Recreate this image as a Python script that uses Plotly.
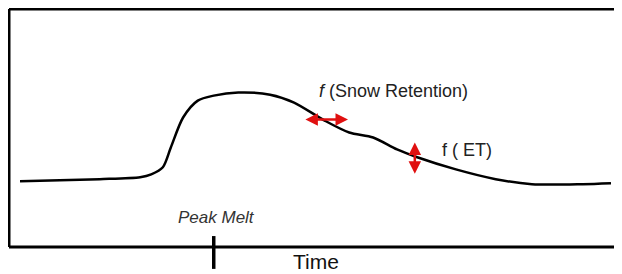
import plotly.graph_objects as go

# Hydrograph (arbitrary units: time 0-100, flow 0-100)
time = [1.8, 8.3, 14.8, 21.4, 23.2, 25.1, 26.4, 28.4, 30.8, 33.4, 37.4, 42.6,
        46.5, 51.5, 55.5, 59.4, 63.3, 66.6, 72.9, 79.4, 85.3, 93.6, 98.2]
flow = [27.6, 28.0, 28.5, 29.3, 30.5, 33.5, 41.8, 54.4, 61.5, 63.6, 64.9, 64.0,
        60.7, 53.1, 48.1, 46.0, 41.0, 37.7, 32.6, 28.5, 26.4, 26.4, 26.8]

peak_melt_time = 33.4
snow_arrow_time = [48.1, 55.3]
snow_arrow_flow = 53.6
et_arrow_time = 66.2
et_arrow_flow = [44.5, 30.8]

fig = go.Figure()
fig.add_trace(go.Scatter(x=time, y=flow, mode="lines",
                         line=dict(color="black", width=2.5, shape="spline", smoothing=0.8),
                         hoverinfo="skip", showlegend=False))

red = "#e01010"
# horizontal double arrow
fig.add_annotation(x=snow_arrow_time[1], y=snow_arrow_flow, ax=snow_arrow_time[0], ay=snow_arrow_flow,
                   xref="x", yref="y", axref="x", ayref="y", text="", showarrow=True,
                   arrowside="end+start", arrowhead=2, arrowsize=1.0, arrowwidth=2.5, arrowcolor=red)
# vertical double arrow
fig.add_annotation(x=et_arrow_time, y=et_arrow_flow[1], ax=et_arrow_time, ay=et_arrow_flow[0],
                   xref="x", yref="y", axref="x", ayref="y", text="", showarrow=True,
                   arrowside="end+start", arrowhead=2, arrowsize=1.0, arrowwidth=2.5, arrowcolor=red)

font = "Liberation Sans, Arial, sans-serif"
fig.add_annotation(x=50.2, y=65.7, xref="x", yref="y", text="<i>f</i> (Snow Retention)",
                   showarrow=False, xanchor="left", yanchor="middle",
                   font=dict(family=font, size=18, color="#222"))
fig.add_annotation(x=70.3, y=40.6, xref="x", yref="y", text="f ( ET)",
                   showarrow=False, xanchor="left", yanchor="middle",
                   font=dict(family=font, size=18, color="#222"))
fig.add_annotation(x=peak_melt_time + 0.4, y=12.6, xref="x", yref="y", text="<i>Peak Melt</i>",
                   showarrow=False, xanchor="center", yanchor="middle",
                   font=dict(family=font, size=17, color="#333"))
fig.add_annotation(x=50.1, y=-0.059, xref="x", yref="paper", text="Time",
                   showarrow=False, xanchor="center", yanchor="middle",
                   font=dict(family=font, size=21, color="#111"))

# frame (left, top, bottom)
frame = dict(color="black", width=3)
fig.add_shape(type="line", xref="paper", yref="paper", x0=0, x1=0, y0=0, y1=1, line=frame)
fig.add_shape(type="line", xref="paper", yref="paper", x0=0, x1=1, y0=1, y1=1, line=frame)
fig.add_shape(type="line", xref="paper", yref="paper", x0=0, x1=1, y0=0, y1=0, line=frame)
# peak melt tick
fig.add_shape(type="line", xref="x", yref="paper", x0=peak_melt_time, x1=peak_melt_time,
              y0=0.046, y1=-0.092, line=dict(color="black", width=3.5))

fig.update_layout(
    width=614, height=266,
    margin=dict(l=1, r=0, t=1, b=27),
    paper_bgcolor="white", plot_bgcolor="white",
    xaxis=dict(range=[0, 100], visible=False, fixedrange=True),
    yaxis=dict(range=[0, 100], visible=False, fixedrange=True),
    showlegend=False,
)
fig.write_html("out.html")
